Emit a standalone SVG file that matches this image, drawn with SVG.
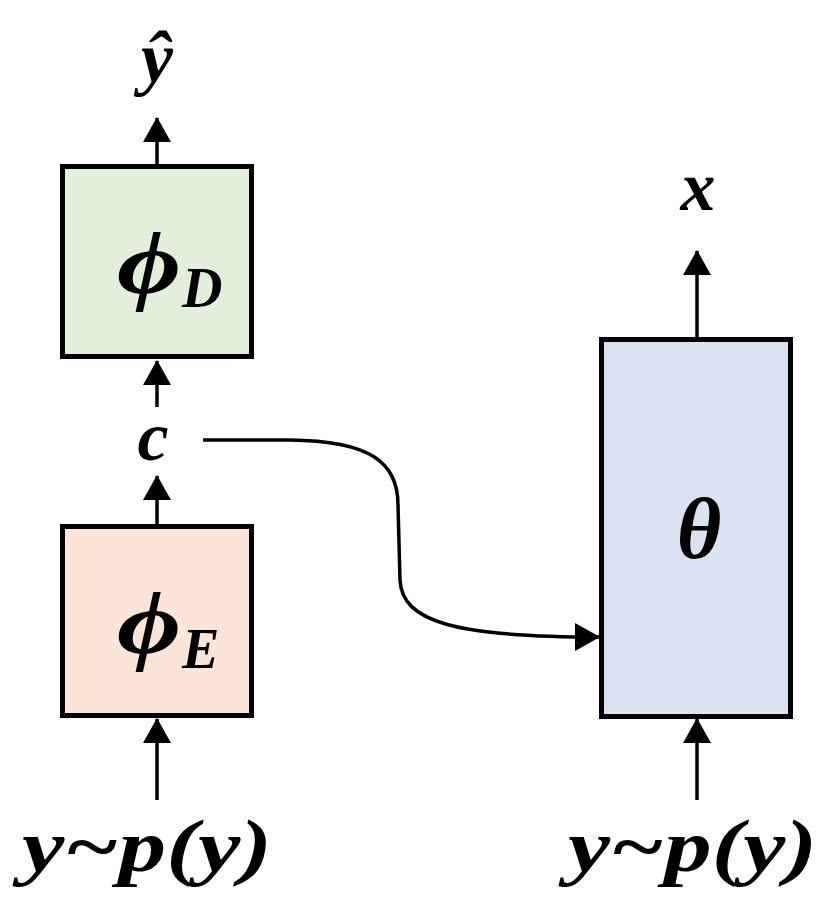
<svg xmlns="http://www.w3.org/2000/svg" width="830" height="913" viewBox="0 0 830 913">
  <style>
    .box { stroke: #000; stroke-width: 5; }
    .lbl { font-family: "Liberation Serif", "Times New Roman", serif; font-weight: bold; font-style: italic; fill: #000; }
    .conn { fill: none; stroke: #000; stroke-width: 3.5; }
  </style>
  <defs>
    <marker id="ah" markerUnits="userSpaceOnUse" viewBox="0 0 25 28" refX="24" refY="14" markerWidth="25" markerHeight="28" orient="auto">
      <path d="M0,0 L25,14 L0,28 Z" fill="#000"/>
    </marker>
  </defs>
  <rect width="830" height="913" fill="#fff"/>

  <g id="connectors">
    <line class="conn" x1="157" y1="166" x2="157" y2="118" marker-end="url(#ah)"/>
    <line class="conn" x1="157" y1="407" x2="157" y2="361" marker-end="url(#ah)"/>
    <line class="conn" x1="157" y1="525" x2="157" y2="476" marker-end="url(#ah)"/>
    <line class="conn" x1="157" y1="800" x2="157" y2="719" marker-end="url(#ah)"/>
    <line class="conn" x1="697" y1="338" x2="697" y2="251" marker-end="url(#ah)"/>
    <line class="conn" x1="697" y1="800" x2="697" y2="719" marker-end="url(#ah)"/>
    <path class="conn" d="M203,440 L290,440 C370,441 398,462 398,505 L400,580 C402,622 455,637 599,637" marker-end="url(#ah)"/>
  </g>

  <g id="phiD">
    <rect class="box" x="62.5" y="166.5" width="189" height="190" fill="#e2efda"/>
    <text class="lbl" x="117" y="293" font-size="88" textLength="64" lengthAdjust="spacingAndGlyphs">ϕ</text>
    <text class="lbl" x="182" y="307" font-size="56">D</text>
  </g>
  <g id="phiE">
    <rect class="box" x="62.5" y="526.5" width="189" height="189" fill="#fbe5d6"/>
    <text class="lbl" x="117" y="653" font-size="88" textLength="64" lengthAdjust="spacingAndGlyphs">ϕ</text>
    <text class="lbl" x="182" y="668" font-size="56">E</text>
  </g>
  <g id="theta">
    <rect class="box" x="601.5" y="339.5" width="189" height="377" fill="#dae3f3"/>
    <text class="lbl" x="699" y="558" font-size="86" text-anchor="middle">θ</text>
  </g>

  <g id="yhat">
    <text class="lbl" x="157" y="82" font-size="72" text-anchor="middle">ŷ</text>
  </g>
  <g id="c">
    <text class="lbl" x="153" y="460" font-size="70" text-anchor="middle">c</text>
  </g>
  <g id="x">
    <text class="lbl" x="698" y="210" font-size="70" text-anchor="middle">x</text>
  </g>
  <g id="input-left">
    <text class="lbl" x="22" y="871" font-size="74" textLength="250" lengthAdjust="spacingAndGlyphs">y~p(y)</text>
  </g>
  <g id="input-right">
    <text class="lbl" x="568" y="871" font-size="74" textLength="249" lengthAdjust="spacingAndGlyphs">y~p(y)</text>
  </g>
</svg>
